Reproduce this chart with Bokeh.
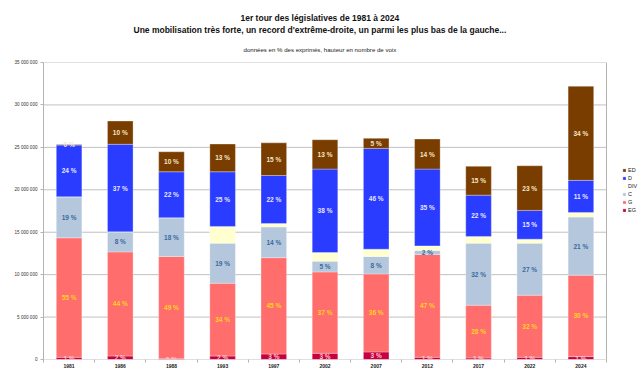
import numpy as np
from bokeh.plotting import figure
from bokeh.models import ColumnDataSource, FixedTicker, Legend, LegendItem, Title, Range1d
from bokeh.core.properties import value
from bokeh.embed import file_html
from bokeh.resources import INLINE

FONT = "Liberation Sans"

# ---- data (votes) ----
years = ["1981", "1986", "1988", "1993", "1997", "2002", "2007", "2012", "2017", "2022", "2024"]
series = ["EG", "G", "C", "DIV", "D", "ED"]

eg  = [260000, 410000, 90000, 410000, 650000, 730000, 890000, 260000, 180000, 260000, 340000]
g   = [14080000, 12270000, 12050000, 8580000, 11350000, 9590000, 9200000, 12120000, 6220000, 7320000, 9600000]
c   = [4830000, 2360000, 4560000, 4720000, 3620000, 1270000, 2050000, 470000, 7310000, 6130000, 6840000]
div = [0, 0, 0, 1970000, 400000, 1020000, 860000, 540000, 790000, 470000, 550000]
d   = [6100000, 10320000, 5420000, 6440000, 5660000, 9830000, 11880000, 9050000, 4870000, 3390000, 3780000]
ed  = [80000, 2740000, 2360000, 3270000, 3850000, 3460000, 1180000, 3540000, 3390000, 5260000, 11090000]

# percentages shown (as read on the chart)
pct_eg = [1, 2, 0, 2, 3, 3, 3, 1, 1, 1, 1]
pct_g  = [55, 44, 49, 34, 45, 37, 36, 47, 28, 32, 30]
pct_c  = [19, 8, 18, 19, 14, 5, 8, 2, 32, 27, 21]
pct_d  = [24, 37, 22, 25, 22, 38, 46, 35, 22, 15, 11]
pct_ed = [0, 10, 10, 13, 15, 13, 5, 14, 15, 23, 34]

yticks = [0, 5000000, 10000000, 15000000, 20000000, 25000000, 30000000, 35000000]

colors = {"EG": "#c7003f", "G": "#ff6d6d", "C": "#b4c7dc", "DIV": "#ffffd0", "D": "#2a3cff", "ED": "#7a3d00"}
label_colors = {"EG": "#ffc8c8", "G": "#ffd320", "C": "#3b6aa0", "D": "#e6e6ff", "ED": "#f3e6c8"}

x = list(range(len(years)))
vals = {"EG": eg, "G": g, "C": c, "DIV": div, "D": d, "ED": ed}
pcts = {"EG": pct_eg, "G": pct_g, "C": pct_c, "D": pct_d, "ED": pct_ed}

src = ColumnDataSource(dict(x=x, **vals))

x_lo, x_hi = -0.5, len(years) - 0.5
# frame extends to the right edge so that the legend can sit beside the bars
x_extra = 34 / (563 / len(years))

p = figure(width=640, height=377, output_backend="svg", toolbar_location=None,
           x_range=Range1d(x_lo, x_hi + x_extra), y_range=Range1d(yticks[0], yticks[-1]),
           min_border_left=43, min_border_right=0, min_border_top=62, min_border_bottom=18,
           title="1er tour des législatives de 1981 à 2024")
p.background_fill_color = "white"
p.border_fill_color = "white"
p.outline_line_color = None

p.title.align = "left"
p.title.offset = 197
p.title.text_font = FONT
p.title.text_font_size = "8.5px"
p.title.text_font_style = "bold"
p.title.text_color = "#111111"
p.title.standoff = 0

sub = Title(text="données en % des exprimés, hauteur en nombre de voix", align="left", offset=200,
            text_font=FONT, text_font_size="6.1px", text_font_style="normal",
            text_color="#222222", standoff=19)
p.add_layout(sub, "above")
t2 = Title(text="Une mobilisation très forte, un record d'extrême-droite, un parmi les plus bas de la gauche...",
           align="left", offset=90, text_font=FONT, text_font_size="8.5px", text_font_style="bold",
           text_color="#111111", standoff=0)
p.add_layout(t2, "above")

# horizontal grid lines and right border of the plot area
p.segment(x0=x_lo, x1=x_hi, y0=yticks, y1=yticks, line_color="#c0c0c0", line_width=1)
p.segment(x0=x_hi, x1=x_hi, y0=yticks[0], y1=yticks[-1], line_color="#b3b3b3", line_width=1)

rends = p.vbar_stack(series, x="x", width=0.5, source=src,
                     fill_color=[colors[s] for s in series],
                     line_color="white", line_alpha=0.3, line_width=1)

# segment labels
bottom = np.zeros(len(years))
for s in series:
    v = np.array(vals[s], dtype=float)
    if s in pcts:
        ls = ColumnDataSource(dict(x=x, y=bottom + v / 2, t=[f"{q} %" for q in pcts[s]]))
        p.text(x="x", y="y", text="t", source=ls, text_align="center", text_baseline="middle",
               text_font=value(FONT), text_font_size="6.5px", text_font_style="bold",
               text_color=label_colors[s])
    bottom = bottom + v

# axes
for ax in (p.xaxis, p.yaxis):
    ax.axis_label = None
    ax.axis_label_standoff = 0

p.yaxis.ticker = FixedTicker(ticks=yticks)
p.yaxis.major_label_overrides = {t: f"{t:,}".replace(",", " ") for t in yticks}
p.yaxis.major_label_text_font = FONT
p.yaxis.major_label_text_font_size = "4.6px"
p.yaxis.major_label_text_color = "#333333"
p.yaxis.axis_line_color = "#b3b3b3"
p.yaxis.major_tick_line_color = "#b3b3b3"
p.yaxis.major_tick_out = 3
p.yaxis.major_tick_in = 0
p.yaxis.minor_tick_line_color = None
p.yaxis.major_label_standoff = 3

p.xaxis.ticker = FixedTicker(ticks=x, minor_ticks=[i - 0.5 for i in range(len(years) + 1)])
p.xaxis.major_label_overrides = {i: y for i, y in zip(x, years)}
p.xaxis.major_label_text_font = FONT
p.xaxis.major_label_text_font_size = "5px"
p.xaxis.major_label_text_font_style = "bold"
p.xaxis.major_label_text_color = "#222222"
p.xaxis.axis_line_color = None
p.xaxis.major_tick_out = 0
p.xaxis.major_tick_in = 0
p.xaxis.minor_tick_out = 3
p.xaxis.minor_tick_in = 0
p.xaxis.minor_tick_line_color = "#b3b3b3"
p.xaxis.major_label_standoff = 1

p.grid.visible = False

items = [LegendItem(label=s, renderers=[r]) for s, r in zip(series, rends)][::-1]
leg = Legend(items=items, location=(579, 146), orientation="vertical",
             label_text_font=FONT, label_text_font_size="5.5px", label_text_color="#222222",
             glyph_width=4, glyph_height=4, label_height=5, spacing=2, padding=0, margin=0,
             label_standoff=2, border_line_color=None, background_fill_alpha=0)
p.add_layout(leg, "center")

open("out.html", "w").write(file_html(p, INLINE))
